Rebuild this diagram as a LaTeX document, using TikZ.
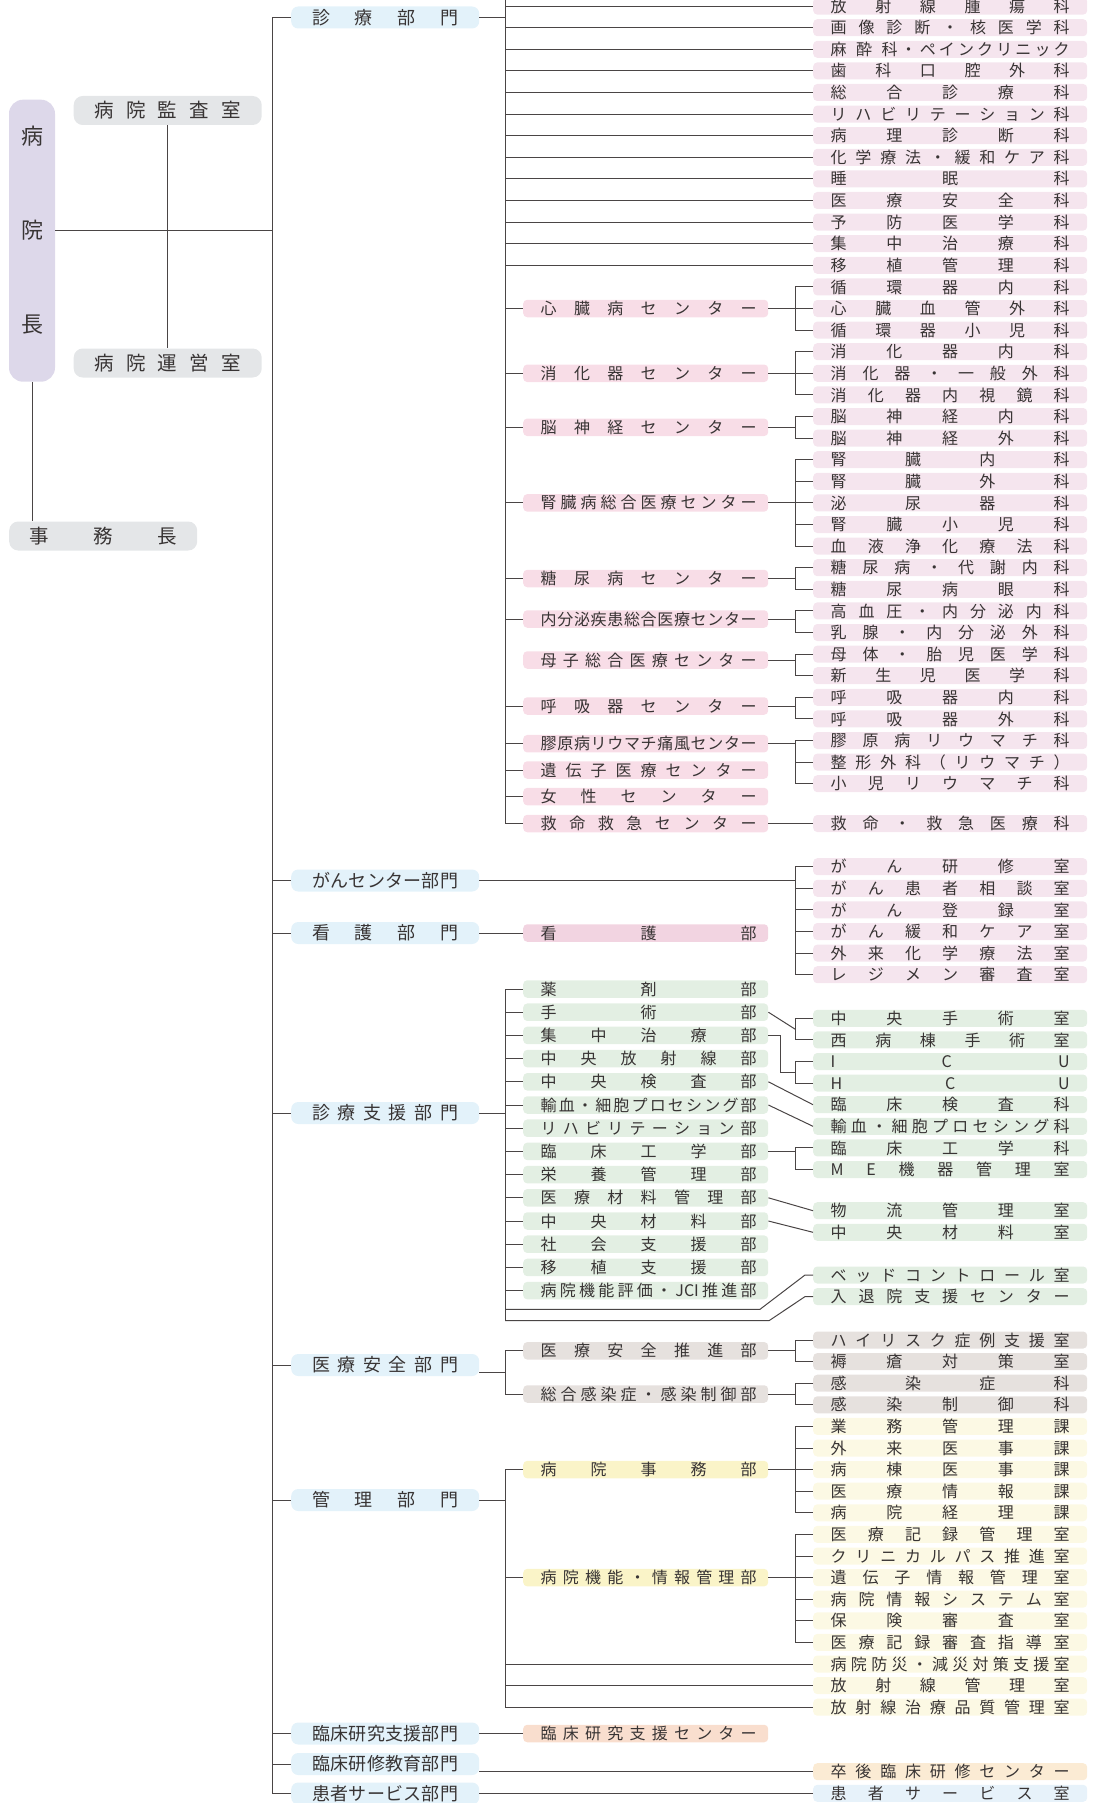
\documentclass[tikz,border=0pt]{standalone}
\usepackage{fontspec}
\setmainfont{Noto Sans CJK JP}
\usetikzlibrary{calc}

\definecolor{linec}{HTML}{4A4545}
\definecolor{textc}{HTML}{383434}
\definecolor{bumonc}{HTML}{E3F2FA}
\definecolor{grayc}{HTML}{E4E6E8}
\definecolor{inchoc}{HTML}{DDD8EA}
\definecolor{kac}{HTML}{F5E5EE}
\definecolor{ctrc}{HTML}{F8DDE7}
\definecolor{kangoc}{HTML}{F2D4E1}
\definecolor{shienc}{HTML}{E3EFE3}
\definecolor{anzenc}{HTML}{E6E1DE}
\definecolor{kanric}{HTML}{FCF9E4}
\definecolor{jimuc}{HTML}{FAF4C8}
\definecolor{kenkyuc}{HTML}{F9DECE}
\definecolor{sotsugoc}{HTML}{FBEBD4}
\definecolor{kanjac}{HTML}{E7F2FA}

% spread the characters over a fixed width
\newcommand\spr[2]{\hbox to #1pt{\spaceskip=0pt plus 1fil\xspaceskip=0pt plus 1fil\relax\ignorespaces#2\unskip}}
\newcommand\mspr[1]{\hskip6pt\spr{216}{#1}}
\newcommand\gap[1]{\hskip0pt plus #1fil\relax}

\begin{document}
\begin{tikzpicture}[x=1pt, y=-1pt,
  conn/.style={draw=linec, line width=1pt},
  rbox/.style={anchor=west, text=textc, rounded corners=4pt, inner xsep=17.5pt, inner ysep=1pt,
    minimum height=17pt, text height=13.6pt, text depth=1.4pt, font=\fontsize{16pt}{16pt}\selectfont},
  mbox/.style={anchor=west, text=textc, rounded corners=4pt, inner xsep=11.5pt, inner ysep=1pt,
    minimum height=17.5pt, text height=13.8pt, text depth=1.7pt, font=\fontsize{16pt}{16pt}\selectfont},
  bbox/.style={anchor=west, text=textc, fill=bumonc, rounded corners=7pt, inner xsep=21pt, inner ysep=1pt,
    text height=16.8pt, text depth=3.2pt, font=\fontsize{18pt}{18pt}\selectfont},
  gbox/.style={anchor=west, text=textc, fill=grayc, rounded corners=9pt, inner xsep=20.5pt, inner ysep=1pt,
    text height=20.9pt, text depth=6.1pt, font=\fontsize{19.5pt}{19.5pt}\selectfont}]
\useasboundingbox (0,0) rectangle (1100,1803);
\clip (0,0) rectangle (1100,1803);

% Hospital director and offices
\node[fill=inchoc, rounded corners=14pt, minimum width=46pt, minimum height=282pt, inner sep=0pt] (incho) at (32,240.7) {};
\foreach \c/\y [count=\i] in {病/136.6, 院/230.4, 長/325}
  \node[text=textc, inner sep=0pt, font=\fontsize{22pt}{22pt}\selectfont] (in\i) at (32,\y) {\c};
\node[gbox] (kansa) at (73.5,110.5) {\spr{147}{病 院 監 査 室}};
\node[gbox] (unei) at (73.5,363) {\spr{147}{病 院 運 営 室}};
\node[gbox] (jimu) at (9,536) {\spr{147}{事 務 長}};

% Divisions
\node[bbox] (shinryo) at (291,17.5) {\spr{146}{診 療 部 門}};
\node[bbox] (gan) at (291,880.5) {\spr{146}{が ん セ ン タ ー 部 門}};
\node[bbox] (kango) at (291,933) {\spr{146}{看 護 部 門}};
\node[bbox] (shien) at (291,1113) {\spr{146}{診 療 支 援 部 門}};
\node[bbox] (anzen) at (291,1365) {\spr{146}{医 療 安 全 部 門}};
\node[bbox] (kanri) at (291,1500) {\spr{146}{管 理 部 門}};
\node[bbox] (kenkyu) at (291,1733.5) {\spr{146}{臨 床 研 究 支 援 部 門}};
\node[bbox] (kyoiku) at (291,1764) {\spr{146}{臨 床 研 修 教 育 部 門}};
\node[bbox] (kanja) at (291,1793.5) {\spr{146}{患 者 サ ー ビ ス 部 門}};

% Clinical departments (right column)
\foreach \t [count=\i] in {
  {放 射 線 腫 瘍 科},{画 像 診 断 ・ 核 医 学 科},{麻\gap3酔\gap3科 ・ ペ イ ン ク リ ニ ッ ク},
  {歯 科 口 腔 外 科},{総 合 診 療 科},{リ ハ ビ リ テ ー シ ョ ン 科},{病 理 診 断 科},
  {化 学 療 法 ・ 緩 和 ケ ア 科},{睡 眠 科},{医 療 安 全 科},{予 防 医 学 科},{集 中 治 療 科},
  {移 植 管 理 科},{循 環 器 内 科},{心 臓 血 管 外 科},{循 環 器 小 児 科},{消 化 器 内 科},
  {消 化 器 ・ 一 般 外 科},{消 化 器 内 視 鏡 科},{脳 神 経 内 科},{脳 神 経 外 科},
  {腎 臓 内 科},{腎 臓 外 科},{泌 尿 器 科},{腎 臓 小 児 科},{血 液 浄 化 療 法 科},
  {糖 尿 病 ・ 代 謝 内 科},{糖 尿 病 眼 科},{高 血 圧 ・ 内 分 泌 内 科},{乳 腺 ・ 内 分 泌 外 科},
  {母 体 ・ 胎 児 医 学 科},{新 生 児 医 学 科},{呼 吸 器 内 科},{呼 吸 器 外 科},
  {膠 原 病 リ ウ マ チ 科},{整 形 外 科 （ リ ウ マ チ ）},{小 児 リ ウ マ チ 科}}
  \node[rbox, fill=kac] (s\i) at (813,{6.1+21.6*(\i-1)}) {\spr{239}{\t}};
\node[rbox, fill=kac] (s38) at (813,823.5) {\spr{239}{救 命 ・ 救 急 医 療 科}};

% Centers (middle column)
\foreach \y/\t [count=\i] in {
  308.5/{心 臓 病 セ ン タ ー},373.3/{消 化 器 セ ン タ ー},427.3/{脳 神 経 セ ン タ ー},
  502.9/{腎 臓 病 総 合 医 療 セ ン タ ー},578.5/{糖 尿 病 セ ン タ ー},
  619/{内 分 泌 疾 患 総 合 医 療 セ ン タ ー},660/{母 子 総 合 医 療 セ ン タ ー},
  706/{呼 吸 器 セ ン タ ー},743.7/{膠 原 病 リ ウ マ チ 痛 風 セ ン タ ー},
  770/{遺 伝 子 医 療 セ ン タ ー},796.6/{女 性 セ ン タ ー},823.5/{救 命 救 急 セ ン タ ー}}
  \node[mbox, fill=ctrc] (c\i) at (523,\y) {\mspr{\t}};

% Cancer center rooms
\foreach \t [count=\i] in {{が ん 研 修 室},{が ん 患 者 相 談 室},{が ん 登 録 室},
  {が ん 緩 和 ケ ア 室},{外 来 化 学 療 法 室},{レ ジ メ ン 審 査 室}}
  \node[rbox, fill=kac] (g\i) at (813,{866.7+21.6*(\i-1)}) {\spr{239}{\t}};

% Nursing
\node[mbox, fill=kangoc] (kangobu) at (523,933) {\mspr{看 護 部}};

% Support departments
\foreach \t [count=\i] in {{薬 剤 部},{手 術 部},{集 中 治 療 部},{中 央 放 射 線 部},
  {中 央 検 査 部},{輸 血 ・ 細 胞 プ ロ セ シ ン グ 部},{リ ハ ビ リ テ ー シ ョ ン 部},
  {臨 床 工 学 部},{栄 養 管 理 部},{医 療 材 料 管 理 部},{中 央 材 料 部},{社 会 支 援 部},
  {移 植 支 援 部},{病 院 機 能 評 価 ・ JCI 推 進 部}}
  \node[mbox, fill=shienc] (sp\i) at (523,{989+23.2*(\i-1)}) {\mspr{\t}};
\foreach \y/\t [count=\i] in {
  1018.3/{中 央 手 術 室},1039.9/{西 病 棟 手 術 室},1061.5/{I C U},1083.1/{H C U},
  1104.7/{臨 床 検 査 科},1126.3/{輸 血 ・ 細 胞 プ ロ セ シ ン グ 科},1147.9/{臨 床 工 学 科},
  1169.5/{M E 機 器 管 理 室},1210.7/{物 流 管 理 室},1232.3/{中 央 材 料 室},
  1275/{ベ ッ ド コ ン ト ロ ー ル 室},1296.6/{入 退 院 支 援 セ ン タ ー}}
  \node[rbox, fill=shienc] (sc\i) at (813,\y) {\spr{239}{\t}};

% Medical safety
\node[mbox, fill=anzenc] (an1) at (523,1350.8) {\mspr{医 療 安 全 推 進 部}};
\node[mbox, fill=anzenc] (an2) at (523,1394) {\mspr{総 合 感 染 症 ・ 感 染 制 御 部}};
\foreach \t [count=\i] in {{ハ イ リ ス ク 症 例 支 援 室},{褥 瘡 対 策 室},{感 染 症 科},{感 染 制 御 科}}
  \node[rbox, fill=anzenc] (ak\i) at (813,{1340+21.6*(\i-1)}) {\spr{239}{\t}};

% Administration
\node[mbox, fill=jimuc] (km1) at (523,1469.6) {\mspr{病 院 事 務 部}};
\node[mbox, fill=jimuc] (km2) at (523,1577.6) {\mspr{病 院 機 能 ・ 情 報 管 理 部}};
\foreach \t [count=\i] in {{業 務 管 理 課},{外 来 医 事 課},{病 棟 医 事 課},{医 療 情 報 課},
  {病 院 経 理 課},{医 療 記 録 管 理 室},{ク リ ニ カ ル パ ス 推 進 室},{遺 伝 子 情 報 管 理 室},
  {病 院 情 報 シ ス テ ム 室},{保 険 審 査 室},{医 療 記 録 審 査 指 導 室},
  {病 院 防 災 ・ 減 災 対 策 支 援 室},{放 射 線 管 理 室},{放 射 線 治 療 品 質 管 理 室}}
  \node[rbox, fill=kanric] (kk\i) at (813,{1426.4+21.6*(\i-1)}) {\spr{239}{\t}};

% Research, training, patient service
\node[mbox, fill=kenkyuc] (kenkyuct) at (523,1733.5) {\mspr{臨 床 研 究 支 援 セ ン タ ー}};
\node[rbox, fill=sotsugoc] (sotsugo) at (813,1771.7) {\spr{239}{卒 後 臨 床 研 修 セ ン タ ー}};
\node[rbox, fill=kanjac] (kanjas) at (813,1793.3) {\spr{239}{患 者 サ ー ビ ス 室}};

% Trunk lines
\coordinate (mt) at (272,0);
\coordinate (t1) at (505,0);
\coordinate (bx) at (795,0);

% Director connectors
\draw[conn] (incho.east |- in2) -- (mt |- in2);
\draw[conn] (kansa.south) -- (unei.north);
\draw[conn] (incho.south) -- (incho.south |- jimu.north);
\draw[conn] (mt |- shinryo.west) -- (mt |- kanja.west);
\foreach \n in {shinryo,gan,kango,shien,anzen,kanri,kenkyu,kyoiku,kanja}
  \draw[conn] (mt |- \n.west) -- (\n.west);

% Clinical division
\draw[conn] (shinryo.east) -- (t1 |- shinryo.east);
\draw[conn] (t1) -- (t1 |- c12.west);
\foreach \i in {1,...,13}
  \draw[conn] (t1 |- s\i.west) -- (s\i.west);
\foreach \i in {1,2,3,4,5,6,8,9,10,11,12}
  \draw[conn] (t1 |- c\i.west) -- (c\i.west);
\foreach \c/\a/\b in {1/14/16, 2/17/19, 3/20/21, 4/22/26, 5/27/28, 6/29/30, 7/31/32, 8/33/34, 9/35/37} {
  \draw[conn] (c\c.east) -- (bx |- c\c.east);
  \draw[conn] (s\a.west) -- (bx |- s\a.west) -- (bx |- s\b.west) -- (s\b.west);
  \foreach \k in {\a,...,\b}
    \draw[conn] (bx |- s\k.west) -- (s\k.west);
}
\draw[conn] (c12.east) -- (s38.west);

% Cancer center
\draw[conn] (gan.east) -- (bx |- gan.east);
\draw[conn] (g1.west) -- (bx |- g1.west) -- (bx |- g6.west) -- (g6.west);
\foreach \k in {2,...,5}
  \draw[conn] (bx |- g\k.west) -- (g\k.west);

% Nursing
\draw[conn] (kango.east) -- (kangobu.west);

% Support division
\coordinate (bed1) at (760,1309.3);
\coordinate (bed2) at (769,1320.7);
\coordinate (op1) at ($(sc1.west)!0.5!(sc2.west)$);
\coordinate (op2) at ($(sc3.west)!0.5!(sc4.west)$);
\draw[conn] (shien.east) -- (t1 |- shien.east);
\draw[conn] (t1 |- sp1.west) -- (t1 |- bed2);
\foreach \i in {1,...,14}
  \draw[conn] (t1 |- sp\i.west) -- (sp\i.west);
\draw[conn] (sp2.east) -- (bx |- op1);
\draw[conn] (sp3.east) -- ++(12,0) |- (bx |- op2);
\draw[conn] (sp5.east) -- (sc5.west);
\draw[conn] (sp6.east) -- (sc6.west);
\draw[conn] (sp8.east) -- (bx |- sp8.east);
\draw[conn] (sp10.east) -- (sc9.west);
\draw[conn] (sp11.east) -- (sc10.west);
\draw[conn] (t1 |- bed1) -- (bed1) -- ([xshift=-8pt]sc11.west) -- (sc11.west);
\draw[conn] (t1 |- bed2) -- (bed2) -- ([xshift=-8pt]sc12.west) -- (sc12.west);
\foreach \a/\b in {1/2, 3/4, 7/8}
  \draw[conn] (sc\a.west) -- (bx |- sc\a.west) -- (bx |- sc\b.west) -- (sc\b.west);

% Safety division
\coordinate (az) at ([yshift=-7pt]anzen.east);
\draw[conn] (az) -- (t1 |- az);
\draw[conn] (an1.west) -- (t1 |- an1.west) -- (t1 |- an2.west) -- (an2.west);
\draw[conn] (an1.east) -- (bx |- an1.east);
\draw[conn] (an2.east) -- (bx |- an2.east);
\foreach \a/\b in {1/2, 3/4}
  \draw[conn] (ak\a.west) -- (bx |- ak\a.west) -- (bx |- ak\b.west) -- (ak\b.west);

% Administration division
\draw[conn] (kanri.east) -- (t1 |- kanri.east);
\draw[conn] (km1.west) -- (t1 |- km1.west) -- (t1 |- kk14.west) -- (kk14.west);
\draw[conn] (t1 |- km2.west) -- (km2.west);
\draw[conn] (t1 |- kk12.west) -- (kk12.west);
\draw[conn] (t1 |- kk13.west) -- (kk13.west);
\draw[conn] (km1.east) -- (bx |- km1.east);
\draw[conn] (km2.east) -- (bx |- km2.east);
\draw[conn] (kk1.west) -- (bx |- kk1.west) -- (bx |- kk5.west) -- (kk5.west);
\draw[conn] (kk6.west) -- (bx |- kk6.west) -- (bx |- kk11.west) -- (kk11.west);
\foreach \k in {2,3,4,7,8,9,10}
  \draw[conn] (bx |- kk\k.west) -- (kk\k.west);

% Research, training, patient service
\draw[conn] (kenkyu.east) -- (kenkyuct.west);
\draw[conn] (kyoiku.east |- sotsugo.west) -- (sotsugo.west);
\draw[conn] (kanja.east |- kanjas.west) -- (kanjas.west);
\end{tikzpicture}
\end{document}
